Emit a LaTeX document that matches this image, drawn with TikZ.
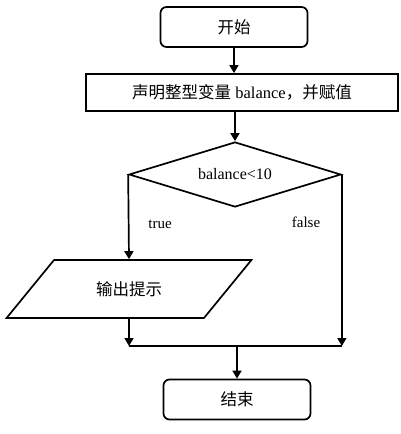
\documentclass[tikz,border=0pt]{standalone}
\usepackage{fontspec}
\setmainfont{Liberation Serif}
\newfontfamily\cjk{Noto Sans CJK SC}
\usetikzlibrary{shapes.geometric,arrows.meta,positioning}
\tikzset{
  term/.style  = { draw, line width=1.7pt, rounded corners=6pt, minimum width=147pt, minimum height=40pt, font=\cjk\fontsize{16.5}{18}\selectfont },
  proc/.style  = { draw, line width=1.7pt, minimum width=312pt, minimum height=37pt, font=\fontsize{16.5}{18}\selectfont },
  cond/.style  = { draw, line width=1.7pt, diamond, aspect=3.2, inner sep=0pt, minimum width=212pt, minimum height=65pt, font=\fontsize{16}{18}\selectfont },
  io/.style    = { draw, line width=1.7pt, trapezium, trapezium left angle=43.6, trapezium right angle=136.4,
    trapezium stretches=true, minimum width=245pt, minimum height=58pt, font=\cjk\fontsize{16.5}{18}\selectfont },
  lbl/.style   = { font=\fontsize{15}{17}\selectfont },
  arr/.style   = { line width=1.7pt, -{Triangle[width=9pt,length=8pt]} }
}
\begin{document}
\begin{tikzpicture}[x=1pt,y=-1pt]
      \useasboundingbox (0,0) rectangle (400,434);
      % start, declare, test
      \node[term] (start) at (234,27) {开始};
      \node[proc] (decl) at (242,92.5) {{\cjk 声明整型变量} balance{\cjk ，并赋值}};
      \node[cond] (test) at (235,174.5) {balance<10};
      % true branch
      \node[io] (warn) at (129,289) {输出提示};
      \node[term] (stop) at (237,399.5) {结束};
      \node[lbl] (tlbl) at (160,224) {true};
      \node[lbl] (flbl) at (306,222) {false};
      \coordinate (joinL) at (129,346);
      \coordinate (joinR) at (test.east |- joinL);
      \coordinate (joinM) at (stop.north |- joinL);
      \draw[arr] (start.south) -- (start.south |- decl.north);
      \draw[arr] (test.north |- decl.south) -- (test.north);
      \draw[arr] (test.west) -- (warn.north);
      \draw[arr] (test.east) -- (joinR);
      \draw[arr] (warn.south) -- (joinL);
      \draw[line width=1.7pt] (joinL) -- (joinR);
      \draw[arr] (joinM) -- (stop.north);
\end{tikzpicture}
\end{document}
